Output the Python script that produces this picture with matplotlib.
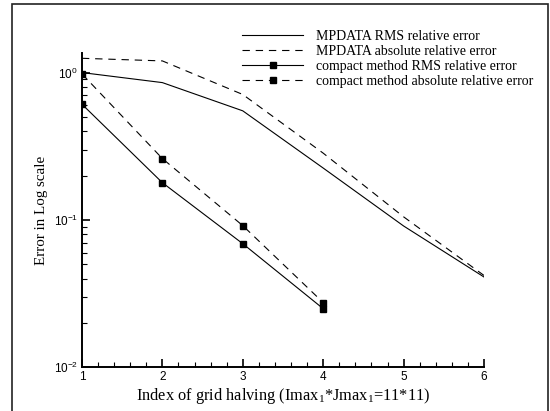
import numpy as np
import matplotlib
matplotlib.use("Agg")
import matplotlib.pyplot as plt
from matplotlib.patches import Rectangle
from matplotlib.ticker import LogLocator, MultipleLocator

plt.rcParams['font.family'] = 'Liberation Sans'
plt.rcParams['mathtext.fontset'] = 'custom'
plt.rcParams['mathtext.rm'] = 'Liberation Serif'
plt.rcParams['lines.scale_dashes'] = False

# grid halving index
x_mp = [1, 2, 3, 4, 5, 6]
x_cm = [1, 2, 3, 4]

# errors
mp_rms = [1.0, 0.855, 0.55, 0.225, 0.091, 0.041]
mp_abs = [1.25, 1.2, 0.71, 0.284, 0.105, 0.042]
cm_rms = [0.61, 0.179, 0.069, 0.025]
cm_abs = [0.98, 0.261, 0.0915, 0.0275]

labels = ["MPDATA RMS relative error",
          "MPDATA absolute relative error",
          "compact method RMS relative error",
          "compact method absolute relative error"]

fig = plt.figure(figsize=(5.5, 4.11), dpi=100)
ax = fig.add_axes([0.149, 0.1063, 0.731, 0.765])

dash = (0, (5.3, 4.2))
ax.plot(x_mp, mp_rms, color='black', lw=0.8, label=labels[0])
ax.plot(x_mp, mp_abs, color='black', lw=0.8, linestyle=dash, label=labels[1])
ax.plot(x_cm, cm_rms, color='black', lw=0.8, marker='s', ms=5, label=labels[2])
ax.plot(x_cm, cm_abs, color='black', lw=0.8, linestyle=dash, marker='s', ms=5,
        label=labels[3])

ax.set_yscale('log')
ax.set_xlim(1, 6)
ax.set_ylim(0.01, 1.36)
ax.xaxis.set_major_locator(MultipleLocator(1))
ax.xaxis.set_minor_locator(MultipleLocator(0.2))
ax.yaxis.set_major_locator(LogLocator(base=10))
ax.yaxis.set_minor_locator(LogLocator(base=10, subs=np.arange(2, 10)))

for s in ['top', 'right']:
    ax.spines[s].set_visible(False)
for s in ['left', 'bottom']:
    ax.spines[s].set_linewidth(1.4)

ax.tick_params(which='major', direction='in', length=6, width=1.2, labelsize=8.5)
ax.tick_params(which='minor', direction='in', length=3.6, width=0.8)
ax.tick_params(axis='x', which='major', pad=2.5)
ax.tick_params(axis='y', which='major', pad=3)

ax.set_xlabel(r"Index of grid halving (Imax$_{\mathrm{1}}$*Jmax$_{\mathrm{1}}$=11*11)",
              family='Liberation Serif', fontsize=11.8, labelpad=2)
ax.set_ylabel("Error in Log scale", family='Liberation Serif', fontsize=10.8, labelpad=4)

ax.legend(loc='upper left', bbox_to_anchor=(0.428, 0.945),
          bbox_transform=fig.transFigure, frameon=False, borderpad=0,
          handlelength=4.4, handletextpad=0.9, labelspacing=0.15, numpoints=1,
          prop={'family': 'Liberation Serif', 'size': 10})

# outer frame
fig.add_artist(Rectangle((12 / 550, -0.05), 536 / 550, 1.05 - 4.5 / 411,
                         transform=fig.transFigure, fill=False,
                         edgecolor='#222222', lw=1.2, clip_on=False))

fig.savefig("out.png", dpi=100)
